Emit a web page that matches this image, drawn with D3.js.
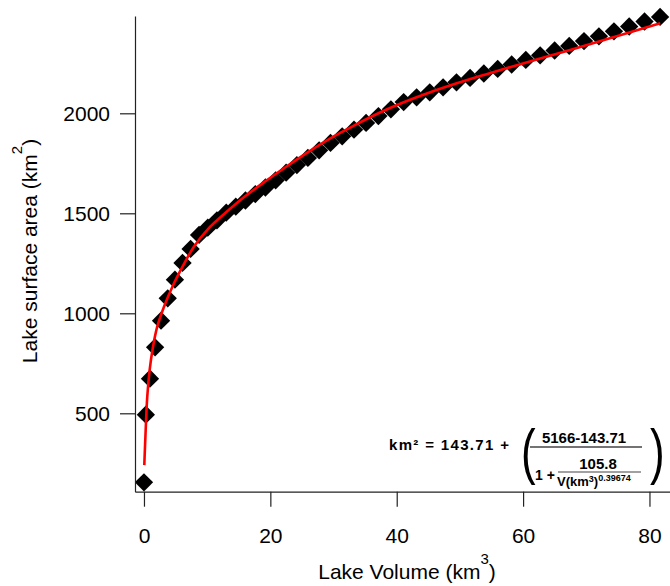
<!DOCTYPE html>
<html>
<head>
<meta charset="utf-8">
<script src="https://cdn.jsdelivr.net/npm/d3@7"></script>
<style>
  body { margin: 0; background: #fff; }
  svg { display: block; }
  text { font-family: "Liberation Sans", Arial, Helvetica, sans-serif; }
</style>
</head>
<body>
<div id="chart"></div>
<script>
// lake volume (km3) and surface area (km2), one point per metre of depth
const volume = [0, 0.30, 0.95, 1.76, 2.70, 3.76, 4.90, 6.10, 7.38, 8.72,
  10.10, 11.55, 13.02, 14.53, 16.06, 17.62, 19.22, 20.84, 22.50, 24.20,
  25.94, 27.72, 29.52, 31.37, 33.24, 35.15, 37.10, 39.08, 41.10, 43.15,
  45.23, 47.34, 49.46, 51.61, 53.79, 55.98, 58.19, 60.43, 62.70, 64.99,
  67.30, 69.64, 72.00, 74.38, 76.79, 79.22, 81.68];
const area = [155, 493, 673, 830, 963, 1075, 1168, 1252, 1322, 1392,
  1428, 1465, 1503, 1533, 1564, 1596, 1629, 1665, 1703, 1741,
  1777, 1815, 1852, 1885, 1918, 1952, 1986, 2020, 2056, 2080,
  2105, 2130, 2155, 2177, 2199, 2222, 2244, 2267, 2290, 2314,
  2337, 2361, 2385, 2410, 2434, 2459, 2482];

// fitted curve
const fitVolume = [0.05, 0.27, 0.52, 0.9, 1.43, 2.1, 3.17, 4.5, 6.1, 7.9,
  10.1, 13.0, 16.0, 19.2, 22.5, 25.9, 29.5, 33.2, 37.1, 41.1,
  45.2, 49.5, 53.8, 58.2, 62.7, 67.3, 72.0, 76.8, 81.7];
const fitArea = [241, 417, 583, 717, 833, 933, 1033, 1133, 1233, 1333,
  1420, 1505, 1585, 1660, 1733, 1805, 1875, 1938, 2000, 2055,
  2104, 2150, 2192, 2233, 2274, 2315, 2359, 2404, 2450];

const xTicks = [0, 20, 40, 60, 80];
const yTicks = [500, 1000, 1500, 2000];

const width = 670, height = 586;
const plotLeft = 135, plotRight = 670, plotTop = 16, plotBottom = 491.7;

const svg = d3.select("#chart").append("svg")
  .attr("width", width)
  .attr("height", height);

const x = d3.scaleLinear().domain([-1.42, 83.25]).range([plotLeft, plotRight]);
const y = d3.scaleLinear().domain([108, 2486.5]).range([plotBottom, plotTop]);

const points = volume.map((v, i) => ({v: v, a: area[i]}));
const fit = fitVolume.map((v, i) => ({v: v, a: fitArea[i]}));

// markers
svg.append("g")
  .selectAll("path")
  .data(points)
  .join("path")
    .attr("d", d3.symbol(d3.symbolSquare, 168))
    .attr("transform", d => `translate(${x(d.v)},${y(d.a)}) rotate(45)`)
    .attr("fill", "#000");

// fit line on top
svg.append("path")
  .datum(fit)
  .attr("fill", "none")
  .attr("stroke", "#f00")
  .attr("stroke-width", 2.6)
  .attr("d", d3.line().x(d => x(d.v)).y(d => y(d.a)).curve(d3.curveCatmullRom));

// axes
const xAxis = svg.append("g")
  .attr("transform", `translate(0,${plotBottom})`)
  .call(d3.axisBottom(x).tickValues(xTicks).tickFormat(d3.format("d"))
    .tickSize(15).tickSizeOuter(0).tickPadding(21));
const yAxis = svg.append("g")
  .attr("transform", `translate(${plotLeft},0)`)
  .call(d3.axisLeft(y).tickValues(yTicks).tickFormat(d3.format("d"))
    .tickSize(15).tickSizeOuter(0).tickPadding(10));

[xAxis, yAxis].forEach(g => {
  g.selectAll("path, line").attr("stroke", "#222").attr("stroke-width", 1.2);
  g.selectAll("text").attr("font-size", 21).attr("fill", "#000")
    .style("font-family", "Liberation Sans, Arial, sans-serif");
});

// axis titles
const xt = svg.append("text")
  .attr("x", 407).attr("y", 579)
  .attr("text-anchor", "middle")
  .attr("font-size", 21);
xt.append("tspan").text("Lake Volume (km");
xt.append("tspan").attr("font-size", 15).attr("dy", -15).text("3");
xt.append("tspan").attr("dy", 15).text(")");

const yt = svg.append("text")
  .attr("transform", "translate(37,251) rotate(-90)")
  .attr("text-anchor", "middle")
  .attr("font-size", 21);
yt.append("tspan").text("Lake surface area (km");
yt.append("tspan").attr("font-size", 15).attr("dy", -15).text("2");
yt.append("tspan").attr("dy", 15).text(")");

// equation
const eq = svg.append("g").attr("font-weight", "bold").attr("fill", "#000");
eq.append("text").attr("x", 509).attr("y", 450).attr("text-anchor", "end")
  .attr("font-size", 15).attr("textLength", 120).attr("lengthAdjust", "spacing")
  .text("km² = 143.71 +");
eq.append("text").attr("transform", "translate(521,472) scale(0.72,1)")
  .attr("font-size", 61).attr("font-weight", "normal").text("(");
eq.append("text").attr("x", 584).attr("y", 443).attr("text-anchor", "middle")
  .attr("font-size", 15).text("5166-143.71");
eq.append("line").attr("x1", 530).attr("x2", 642).attr("y1", 447).attr("y2", 447)
  .attr("stroke", "#444").attr("stroke-width", 1.4);
eq.append("text").attr("x", 535).attr("y", 480).attr("font-size", 14).text("1 +");
eq.append("text").attr("x", 598).attr("y", 469).attr("text-anchor", "middle")
  .attr("font-size", 15).text("105.8");
eq.append("line").attr("x1", 558).attr("x2", 641).attr("y1", 472).attr("y2", 472)
  .attr("stroke", "#444").attr("stroke-width", 1.2);
const den = eq.append("text").attr("x", 557).attr("y", 486).attr("font-size", 13);
den.append("tspan").text("V(km");
den.append("tspan").attr("font-size", 9).attr("dy", -4).text("3");
den.append("tspan").attr("dy", 4).text(")");
den.append("tspan").attr("font-size", 9).attr("dy", -5).text("0.39674");
eq.append("text").attr("transform", "translate(650,472) scale(0.72,1)")
  .attr("font-size", 61).attr("font-weight", "normal").text(")");
</script>
</body>
</html>
